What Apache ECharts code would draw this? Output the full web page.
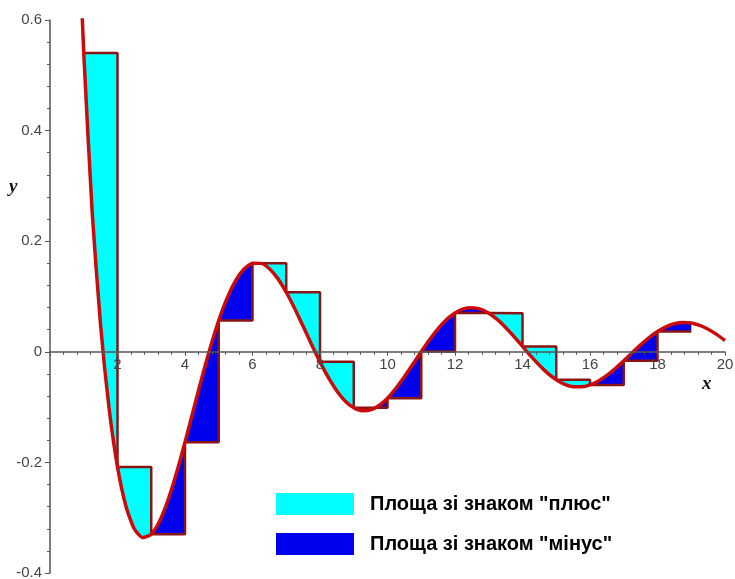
<!DOCTYPE html>
<html>
<head>
<meta charset="utf-8">
<script src="https://cdn.jsdelivr.net/npm/echarts@6/dist/echarts.min.js"></script>
<style>
html,body{margin:0;padding:0;background:#fff;}
#chart{width:735px;height:579px;}
</style>
</head>
<body>
<div id="chart"></div>
<script>
// Curve y = f(x)
const curveX = [0.9, 1, 1.25, 1.5, 1.75, 2, 2.25, 2.5, 2.75, 3, 3.25, 3.5, 3.75, 4, 4.25, 4.5, 4.75,
  5, 5.25, 5.5, 5.75, 6, 6.25, 6.5, 6.75, 7, 7.25, 7.5, 7.75, 8, 8.25, 8.5, 8.75,
  9, 9.25, 9.5, 9.75, 10, 10.25, 10.5, 10.75, 11, 11.25, 11.5, 11.75, 12, 12.25, 12.5, 12.75,
  13, 13.25, 13.5, 13.75, 14, 14.25, 14.5, 14.75, 15, 15.25, 15.5, 15.75, 16, 16.25, 16.5, 16.75,
  17, 17.25, 17.5, 17.75, 18, 18.25, 18.5, 18.75, 19, 19.25, 19.5, 19.75, 20];
const curveY = [0.6907, 0.5403, 0.2522, 0.0472, -0.1018, -0.2081, -0.2792, -0.3205, -0.3361, -0.3300, -0.3059, -0.2676, -0.2188, -0.1634, -0.1050, -0.0468, 0.0079,
  0.0567, 0.0975, 0.1289, 0.1498, 0.1600, 0.1599, 0.1502, 0.1323, 0.1077, 0.0783, 0.0462, 0.0134, -0.0182, -0.0468, -0.0708, -0.0893,
  -0.1012, -0.1065, -0.1050, -0.0972, -0.0839, -0.0662, -0.0453, -0.0226, 0.0004, 0.0224, 0.0420, 0.0583, 0.0703, 0.0776, 0.0798, 0.0771,
  0.0698, 0.0585, 0.0441, 0.0275, 0.0098, -0.0079, -0.0245, -0.0390, -0.0506, -0.0588, -0.0631, -0.0634, -0.0599, -0.0527, -0.0426, -0.0302,
  -0.0162, -0.0017, 0.0125, 0.0256, 0.0367, 0.0452, 0.0508, 0.0531, 0.0520, 0.0478, 0.0408, 0.0315, 0.0204];

// Step (rectangle) heights on [k, k+1]
const stepX = [1, 2, 3, 4, 5, 6, 7, 8, 9, 10, 11, 12, 13, 14, 15, 16, 17, 18];
const stepY = [0.5403, -0.2081, -0.3300, -0.1634, 0.0567, 0.1600, 0.1077, -0.0182, -0.1012, -0.0839, 0.0004, 0.0703, 0.0698, 0.0098, -0.0506, -0.0599, -0.0162, 0.0367];

const legendNames = ['Площа зі знаком "плюс"', 'Площа зі знаком "мінус"'];
const xTickValues = [2, 4, 6, 8, 10, 12, 14, 16, 18, 20];
const yMin = -0.4, yMax = 0.6;

const curveData = curveX.map((x, i) => [x, curveY[i]]);
const stairData = [];
stepX.forEach((x, i) => {
  stairData.push([x, stepY[i]]);
  stairData.push([x + 1, stepY[i]]);
});

// pieces between curve and step for interval i, each with sign (+1 : step above curve)
function pieces(i) {
  const a = stepX[i], b = a + 1, s = stepY[i];
  const pts = curveData.filter(p => p[0] >= a - 1e-9 && p[0] <= b + 1e-9);
  const out = [];
  let cur = [pts[0]];
  let sign = 0;
  for (let j = 1; j < pts.length; j++) {
    const p = pts[j - 1], q = pts[j];
    const dp = p[1] - s, dq = q[1] - s;
    if (dp * dq < 0) {
      const t = dp / (dp - dq);
      const c = [p[0] + t * (q[0] - p[0]), s];
      cur.push(c);
      out.push({ sign: sign, pts: cur });
      cur = [c];
      sign = 0;
    }
    cur.push(q);
    if (sign === 0 && Math.abs(dq) > 1e-9) sign = dq < 0 ? 1 : -1;
  }
  out.push({ sign: sign, pts: cur });
  return out.map(pc => {
    const first = pc.pts[0], last = pc.pts[pc.pts.length - 1];
    return { sign: pc.sign, poly: pc.pts.concat([[last[0], s], [first[0], s]]) };
  });
}

function makeRender(wantSign, color) {
  return function (params, api) {
    const ps = pieces(params.dataIndex).filter(p => p.sign === wantSign);
    return {
      type: 'group',
      children: ps.map(p => ({
        type: 'polygon',
        shape: { points: p.poly.map(pt => api.coord(pt)) },
        style: { fill: color, stroke: null }
      }))
    };
  };
}

const W = 735, H = 579;
const gridTop = 20, gridBottom = 6;
const gridH = H - gridTop - gridBottom;
const zeroOffset = -gridH * (0 - yMin) / (yMax - yMin);

const chart = echarts.init(document.getElementById('chart'));
const labelStyle = { color: '#444', fontSize: 15, fontFamily: 'Liberation Sans, Arial, sans-serif' };
chart.setOption({
  animation: false,
  backgroundColor: '#fff',
  grid: { left: 50, right: 10, top: gridTop, bottom: gridBottom, containLabel: false, outerBoundsMode: 'none' },
  xAxis: {
    type: 'value', min: 0, max: 20, interval: 2, position: 'bottom', offset: zeroOffset, z: 10,
    axisLine: { onZero: false, lineStyle: { color: '#555', width: 1.5 } },
    axisTick: { show: true, length: 4, lineStyle: { color: '#555' } },
    minorTick: { show: true, splitNumber: 5, length: 3, lineStyle: { color: '#555' } },
    splitLine: { show: false },
    axisLabel: Object.assign({ margin: 6, formatter: v => xTickValues.indexOf(v) >= 0 ? String(v) : '' }, labelStyle)
  },
  yAxis: {
    type: 'value', min: yMin, max: yMax, interval: 0.2, z: 10,
    axisLine: { show: true, onZero: false, lineStyle: { color: '#555', width: 1.5 } },
    axisTick: { show: true, length: 5, lineStyle: { color: '#555' } },
    minorTick: { show: true, splitNumber: 5, length: 3, lineStyle: { color: '#555' } },
    splitLine: { show: false },
    axisLabel: Object.assign({ margin: 8, formatter: v => String(Math.round(v * 10) / 10) }, labelStyle)
  },
  legend: {
    orient: 'vertical', left: 271, top: 488, itemWidth: 78, itemHeight: 22, itemGap: 18,
    icon: 'rect',
    data: legendNames,
    textStyle: { color: '#000', fontSize: 20, fontWeight: 'bold', fontFamily: 'Liberation Sans, Arial, sans-serif', padding: [0, 0, 0, 11] }
  },
  graphic: [
    { type: 'text', left: 9, top: 178, style: { text: 'y', font: 'italic bold 19px "Liberation Serif", serif', fill: '#111' } },
    { type: 'text', left: 702, top: 375, style: { text: 'x', font: 'italic bold 19px "Liberation Serif", serif', fill: '#111' } }
  ],
  series: [
    {
      name: legendNames[0], type: 'custom', z: 2,
      itemStyle: { color: '#00ffff' },
      data: stepX.map((x, i) => [x, stepY[i]]),
      encode: { x: 0, y: 1 },
      renderItem: makeRender(1, '#00ffff')
    },
    {
      name: legendNames[1], type: 'custom', z: 2,
      itemStyle: { color: '#0000ee' },
      data: stepX.map((x, i) => [x, stepY[i]]),
      encode: { x: 0, y: 1 },
      renderItem: makeRender(-1, '#0000ee')
    },
    {
      type: 'line', z: 3, data: stairData, showSymbol: false, symbol: 'none',
      lineStyle: { color: '#8a1414', width: 2.5 }, silent: true
    },
    {
      type: 'line', z: 4, data: curveData, showSymbol: false, symbol: 'none', smooth: 0.2,
      clip: true,
      lineStyle: { color: '#cc0a0a', width: 3.5 }, silent: true
    }
  ]
});
</script>
</body>
</html>
